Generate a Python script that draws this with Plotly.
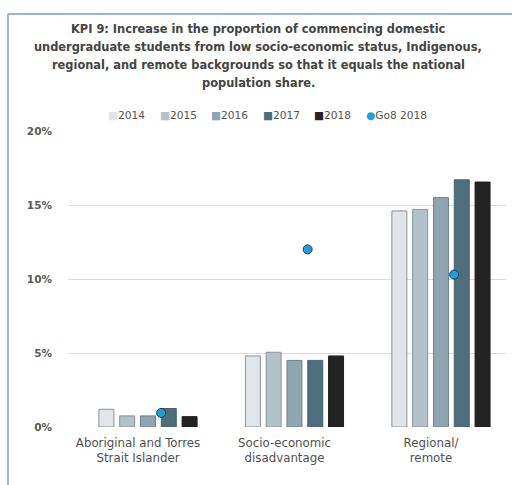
import plotly.graph_objects as go

# Categories and series values (percent of commencing domestic undergraduates)
categories = ["Aboriginal and Torres<br>Strait Islander", "Socio-economic<br>disadvantage", "Regional/<br>remote"]
years = ["2014", "2015", "2016", "2017", "2018"]
v2014 = [1.2, 4.8, 14.6]
v2015 = [0.75, 5.05, 14.7]
v2016 = [0.75, 4.5, 15.5]
v2017 = [1.25, 4.5, 16.7]
v2018 = [0.7, 4.8, 16.55]
go8_2018 = [0.95, 12.0, 10.3]
y_ticks = [0, 5, 10, 15, 20]
y_tick_labels = ["0%", "5%", "10%", "15%", "20%"]

series = [v2014, v2015, v2016, v2017, v2018]
fills = ["#dfe5e8", "#b3c2c9", "#8fa6b0", "#4f6e7b", "#232323"]
edges = ["#8c9499", "#8c9499", "#6f8089", "#48626e", "#1e1e1e"]
go8_fill = "#1ba1db"

FONT = "DejaVu Sans, Verdana, sans-serif"

# pixel geometry of the 512x485 page
W, H = 512, 485
PL, PR, PT, PB = 68, 506, 131, 427  # plot area edges in px


def px(x):
    return (x - PL) / (PR - PL)


def py(y):
    return (PB - y) / (PB - PT)


xpos = list(range(len(categories)))

fig = go.Figure()
for name, vals, fc, lc in zip(years, series, fills, edges):
    fig.add_trace(go.Bar(
        x=xpos, y=vals, name=name,
        marker=dict(color=fc, line=dict(color=lc, width=1)),
        showlegend=False,
    ))

fig.add_trace(go.Scatter(
    x=[i + 0.09 for i in xpos], y=go8_2018, name="Go8 2018", mode="markers",
    marker=dict(color=go8_fill, size=9, symbol="circle",
                line=dict(color="#1f3b4d", width=1)),
    showlegend=False,
))

fig.update_layout(
    width=W, height=H,
    margin=dict(l=PL, r=W - PR, t=PT, b=H - PB, pad=0),
    paper_bgcolor="white", plot_bgcolor="white",
    barmode="group", bargap=0.29, bargroupgap=0.28,
    font=dict(family=FONT, color="#555555"),
    xaxis=dict(
        # category labels sit slightly left of their bar groups
        range=[-0.546, 2.444], tickmode="array", tickvals=[i - 0.068 for i in xpos],
        ticktext=categories,
        tickfont=dict(size=11.8, color="#505050"), showgrid=False, zeroline=False,
        showline=False, ticks="", ticklabelstandoff=7,
    ),
    yaxis=dict(
        range=[0, 20], tickmode="array", tickvals=y_ticks,
        ticktext=[f"<b>{t}</b>" for t in y_tick_labels],
        tickfont=dict(size=10.5, color="#5a5a5a"),
        showgrid=True, gridcolor="#dcdcdc", gridwidth=1, zeroline=False,
        showline=False, ticks="", ticklabelstandoff=15,
    ),
)

# chart heading, one annotation per line
title_lines = [
    "KPI 9: Increase in the proportion of commencing domestic",
    "undergraduate students from low socio-economic status, Indigenous,",
    "regional, and remote backgrounds so that it equals the national",
    "population share.",
]
for i, line in enumerate(title_lines):
    fig.add_annotation(
        x=px(258), y=py(28.5 + i * 18.3), xref="paper", yref="paper",
        text=f"<b>{line}</b>", showarrow=False, xanchor="center", yanchor="middle",
        font=dict(size=11.4, color="#444444"),
    )

# legend row
legend_items = years + ["Go8 2018"]
legend_colors = fills + [go8_fill]
for i, (n, c) in enumerate(zip(legend_items, legend_colors)):
    mark = "●" if n == "Go8 2018" else "■"
    fig.add_annotation(
        x=px(106 + i * 51.5), y=py(115), xref="paper", yref="paper",
        text=f"<span style='color:{c}'>{mark}</span>{n}",
        showarrow=False, xanchor="left", yanchor="middle",
        font=dict(size=10.6, color="#555555"),
    )

# frame lines along the top and left edges
frame = "#9db5c8"
fig.add_shape(type="line", xref="paper", yref="paper",
              x0=px(8), x1=px(W), y0=py(14), y1=py(14), line=dict(color=frame, width=2))
fig.add_shape(type="line", xref="paper", yref="paper",
              x0=px(8), x1=px(8), y0=py(14), y1=py(H), line=dict(color=frame, width=2))

fig.write_html("out.html")
